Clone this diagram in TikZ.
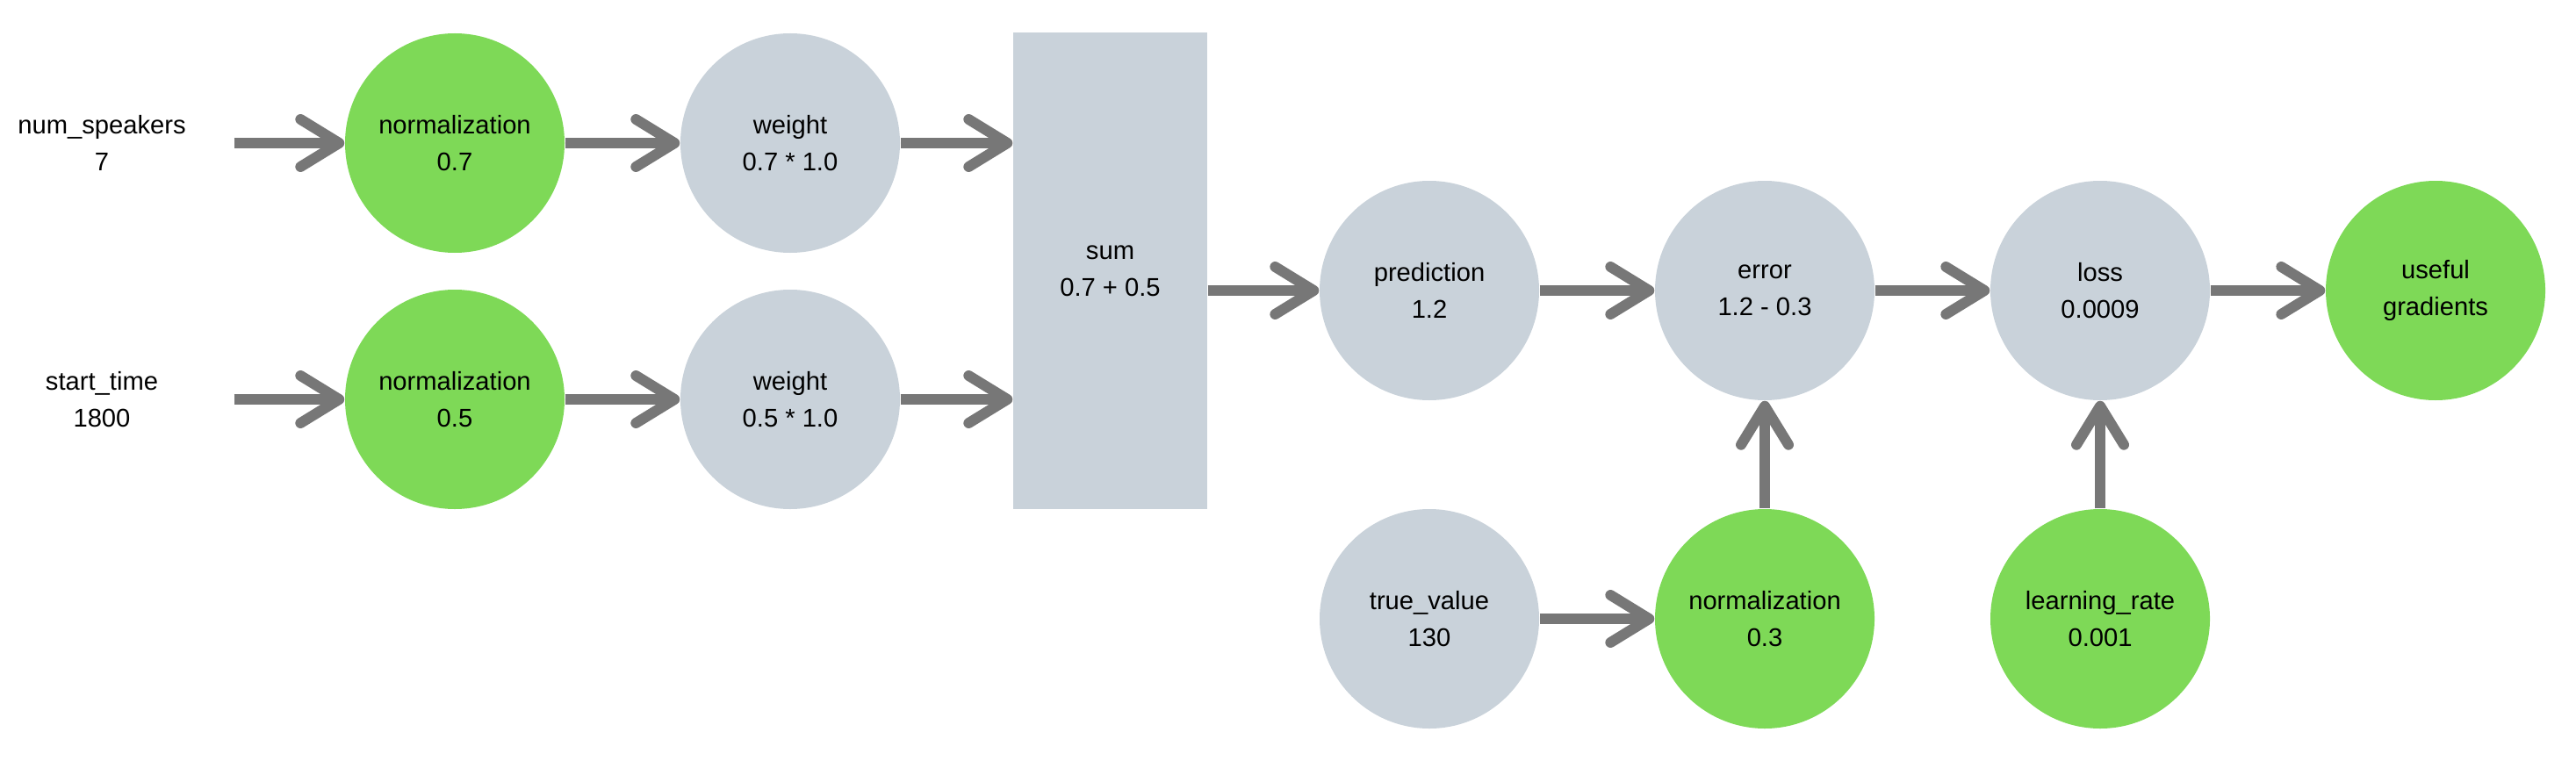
\documentclass[tikz,border=0pt]{standalone}
\usepackage{fontspec}
\setmainfont{Liberation Sans}
\usetikzlibrary{arrows.meta}
\definecolor{normgreen}{HTML}{7ED957}
\definecolor{opgray}{HTML}{C9D2DA}
\definecolor{arrowgray}{HTML}{777777}
\begin{document}
\begin{tikzpicture}[node distance={38.2mm},
  main/.style = {circle, minimum size=25mm, inner sep=0pt, align=center, font=\fontsize{8.3}{12}\selectfont},
  lbl/.style = {text width=20mm, inner sep=0pt, align=center, font=\fontsize{8.3}{12}\selectfont},
  arr/.style = {draw=arrowgray, line width=3.4pt, -{Straight Barb[length=4.4mm,width=5.4mm,round]}}]
\useasboundingbox (0,0) rectangle (29.34,8.74);
\node[main, fill=normgreen] (norm1) at (5.18,7.11) {normalization\\0.7};
\node[main, fill=opgray] (w1) [right of=norm1] {weight\\0.7 * 1.0};
\node[main, fill=normgreen] (norm2) at (5.18,4.19) {normalization\\0.5};
\node[main, fill=opgray] (w2) [right of=norm2] {weight\\0.5 * 1.0};
\node[lbl] (in1) at (1.16,7.11) {num\_speakers\\7};
\node[lbl] (in2) at (1.16,4.19) {start\_time\\1800};
\node[fill=opgray, minimum width=22.1mm, minimum height=54.3mm, align=center, font=\fontsize{8.3}{12}\selectfont] (sum) at (12.645,5.655) {sum\\0.7 + 0.5};
\node[main, fill=opgray] (pred) at (16.28,5.43) {prediction\\1.2};
\node[main, fill=opgray] (err) [right of=pred] {error\\1.2 - 0.3};
\node[main, fill=opgray] (loss) [right of=err] {loss\\0.0009};
\node[main, fill=normgreen] (grad) [right of=loss] {useful\\gradients};
\node[main, fill=opgray] (truev) at (16.28,1.69) {true\_value\\130};
\node[main, fill=normgreen] (norm3) [right of=truev] {normalization\\0.3};
\node[main, fill=normgreen] (lr) [right of=norm3] {learning\_rate\\0.001};
\draw[arr] ([xshift=5mm]in1.east) -- (norm1);
\draw[arr] ([xshift=5mm]in2.east) -- (norm2);
\draw[arr] (norm1) -- (w1);
\draw[arr] (norm2) -- (w2);
\draw[arr] (w1) -- (w1 -| sum.west);
\draw[arr] (w2) -- (w2 -| sum.west);
\draw[arr] (sum.east |- pred) -- (pred);
\draw[arr] (pred) -- (err);
\draw[arr] (err) -- (loss);
\draw[arr] (loss) -- (grad);
\draw[arr] (truev) -- (norm3);
\draw[arr] (norm3) -- (err);
\draw[arr] (lr) -- (loss);
\end{tikzpicture}
\end{document}
